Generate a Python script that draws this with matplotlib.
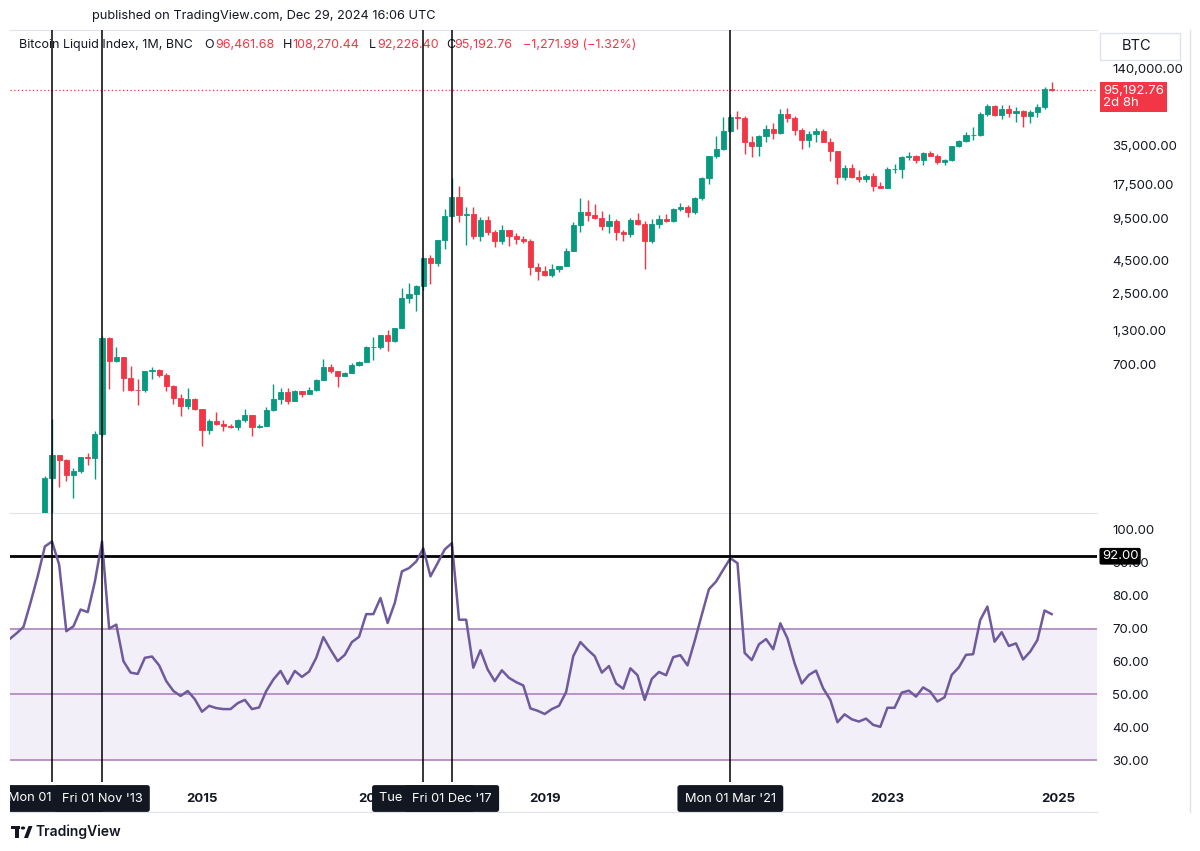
# Bitcoin Liquid Index, monthly candles + RSI, TradingView style

import numpy as np
import pandas as pd
import matplotlib
matplotlib.use('Agg')
import matplotlib.pyplot as plt
import matplotlib.ticker as ticker
from matplotlib.lines import Line2D
from matplotlib.patches import Rectangle, Circle, Polygon

plt.rcParams['font.family'] = ['Inter', 'DejaVu Sans']

#------------------------ DATA --------------------------#
months = pd.date_range('2012-10-01', '2024-12-01', freq='MS')

opens = [12.4, 11.2, 12.6,
         13.5, 20.4, 33.4, 93, 139, 129, 97.5, 106, 135, 133, 203, 1129,
         754, 805, 550, 450, 448, 625, 640, 585, 480, 385, 338, 380,
         318, 218, 255, 245, 236, 230, 263, 284, 230, 236, 312, 378,
         430, 368, 437, 416, 448, 531, 673, 624, 573, 608, 700, 742,
         964, 970, 1190, 1080, 1350, 2300, 2480, 2875, 4700, 4340, 6450, 10000,
         13880, 10220, 10320, 6925, 9240, 7490, 6390, 7730, 7030, 6630, 6370, 4040,
         3740, 3460, 3850, 4100, 5320, 8560, 10800, 10100, 9600, 8300, 9150, 7550,
         7190, 9350, 8600, 6410, 8620, 9450, 9140, 11350, 11650, 10780, 13800, 19700,
         28950, 33100, 45200, 58800, 57700, 37300, 35050, 41500, 47100, 43800, 61300, 57000,
         46200, 38500, 43200, 45500, 37700, 31800, 19900, 23300, 20000, 19400, 20500, 17160,
         16550, 23100, 23150, 28480, 29250, 27200, 30480, 29230, 25940, 26970, 34660, 37720,
         42280, 42580, 61200, 71300, 60700, 67500, 62700, 64600, 59000, 63300, 70200, 96461.68]
highs = [12.9, 12.6, 13.8,
         20.4, 33.5, 96, 266, 140, 130, 110, 136, 144, 213, 1163, 1150,
         960, 810, 690, 545, 630, 670, 655, 600, 490, 415, 460, 390,
         320, 265, 300, 260, 245, 268, 318, 285, 245, 330, 500, 465,
         460, 445, 439, 470, 548, 780, 705, 625, 615, 720, 755, 980,
         1150, 1200, 1295, 1350, 2760, 2999, 2930, 4750, 4980, 6470, 11400, 19700,
         17170, 11780, 11680, 9760, 9990, 7760, 8500, 7760, 7400, 7000, 6580, 4280,
         4100, 4200, 4120, 5600, 9000, 13800, 13200, 12300, 10900, 10370, 9530, 7740,
         9580, 10500, 9180, 9460, 10070, 10380, 11430, 12470, 12080, 14100, 19900, 29300,
         41950, 58350, 61790, 64900, 59500, 41300, 42400, 50500, 52900, 67000, 69000, 59100,
         47990, 45800, 48200, 47400, 40000, 31900, 24600, 25200, 22700, 21000, 21400, 18400,
         23900, 25200, 29200, 31000, 29800, 31400, 31800, 30200, 27500, 35000, 38400, 44700,
         48970, 64000, 73800, 72800, 71950, 71990, 70000, 65600, 66500, 73600, 99600, 108270.44]
lows = [9.9, 10.0, 12.3,
        13.2, 19.1, 33, 50, 79, 88, 65.5, 101, 118, 91, 197, 455,
        740, 440, 440, 340, 430, 540, 565, 440, 350, 280, 320, 310,
        165, 205, 240, 215, 225, 220, 252, 198, 225, 235, 305, 350,
        350, 365, 395, 413, 438, 530, 600, 470, 570, 600, 690, 740,
        760, 935, 890, 1060, 1345, 2100, 1830, 2670, 2970, 4100, 5500, 9900,
        9000, 5920, 6600, 6430, 7060, 5750, 6070, 5880, 6100, 6130, 3470, 3170,
        3400, 3380, 3670, 4080, 5320, 7500, 9100, 9400, 7750, 7300, 6520, 6430,
        6860, 8450, 3850, 6150, 8120, 8910, 8970, 10980, 9880, 10370, 13200, 17600,
        28130, 32300, 45000, 47000, 30000, 28800, 29300, 37400, 39600, 43300, 53300, 42000,
        32900, 34300, 37200, 37600, 26700, 17600, 18800, 19600, 18200, 18200, 15600, 16300,
        16500, 21400, 19600, 26950, 25800, 24800, 28900, 25400, 24900, 26600, 34100, 37600,
        38500, 41900, 59300, 59200, 56500, 58400, 53500, 49100, 52600, 58900, 66900, 92226.40]
closes = [11.2, 12.6, 13.5,
          20.4, 33.4, 93, 139, 129, 97.5, 106, 135, 133, 203, 1129, 754,
          805, 550, 450, 448, 625, 640, 585, 480, 385, 338, 380, 318,
          218, 255, 245, 236, 230, 263, 284, 230, 236, 312, 378, 430,
          368, 437, 416, 448, 531, 673, 624, 573, 608, 700, 742, 964,
          970, 1190, 1080, 1350, 2300, 2480, 2875, 4700, 4340, 6450, 10000, 13880,
          10220, 10320, 6925, 9240, 7490, 6390, 7730, 7030, 6630, 6370, 4040, 3740,
          3460, 3850, 4100, 5320, 8560, 10800, 10100, 9600, 8300, 9150, 7550, 7190,
          9350, 8600, 6410, 8620, 9450, 9140, 11350, 11650, 10780, 13800, 19700, 28950,
          33100, 45200, 58800, 57700, 37300, 35050, 41500, 47100, 43800, 61300, 57000, 46200,
          38500, 43200, 45500, 37700, 31800, 19900, 23300, 20000, 19400, 20500, 17160, 16550,
          23100, 23150, 28480, 29250, 27200, 30480, 29230, 25940, 26970, 34660, 37720, 42280,
          42580, 61200, 71300, 60700, 67500, 62700, 64600, 59000, 63300, 70200, 96460, 95192.76]

rsi = [66.7, 68.5, 70.5,
       78, 86, 95, 96.5, 89.4, 69.2, 70.7, 75.8, 75, 84.3, 96.5, 70,
       71.2, 60.1, 56.6, 56.2, 61.1, 61.5, 58.8, 54, 51, 49.5, 51, 48.5,
       44.7, 46.5, 45.8, 45.5, 45.5, 47.3, 48.3, 45.5, 46, 51, 54.5, 57.1,
       53.2, 57.1, 55.3, 56.9, 61.1, 67.4, 63.6, 60.1, 62, 65.9, 67.5, 74.4,
       74.4, 79.3, 71.7, 77.8, 87.4, 88.4, 90.4, 94.4, 85.9, 89.9, 94.1, 96,
       72.7, 72.7, 58.1, 63.4, 57.6, 54, 57.3, 55, 53.7, 52.7, 45.7, 45,
       44, 45.5, 46.5, 50.7, 61.6, 65.9, 63.6, 61.6, 56.6, 58.6, 53.3, 51.7,
       57.9, 55.8, 48.3, 54.7, 56.8, 55.8, 61.3, 61.9, 58.8, 66.2, 74.2, 82,
       84.3, 87.9, 91.4, 89.9, 62.6, 60.4, 65.2, 66.8, 63.7, 71.6, 67, 59.4,
       53.3, 55.9, 57.2, 51.8, 48.3, 41.5, 43.9, 42.4, 41.7, 42.6, 40.7, 40.1,
       45.9, 45.9, 50.5, 51.1, 49.3, 52.1, 50.8, 47.8, 49.1, 55.9, 58.2, 62,
       62.2, 72.6, 76.7, 66, 68.9, 64.7, 65.5, 60.6, 63, 66.5, 75.5, 74.4]

price_ticks = [700, 1300, 2500, 4500, 9500, 17500, 35000, 140000]
rsi_ticks = [30, 40, 50, 60, 70, 80, 90, 100]
rsi_bands = [30, 50, 70]
rsi_level = 92
last_price = 95192.76
year_labels = [2015, 2017, 2019, 2023, 2025]
marked_dates = ['2013-04-01', '2013-11-01', '2017-08-01', '2017-12-01', '2021-03-01']
marked_labels = ["Mon 01 Apr '13", "Fri 01 Nov '13", "Tue 01 Aug '17", "Fri 01 Dec '17", "Mon 01 Mar '21"]
#------------------------ DATA --------------------------#

GREEN = '#089981'
RED = '#F23645'
TEXT = '#131722'
GRID = '#e0e3eb'

W, H = 1200, 851
def fx(px):
    return px / W
def fy(py):
    return 1 - py / H

fig = plt.figure(figsize=(12, 8.51), dpi=100)
fig.patch.set_facecolor('white')

left, right = 10, 1097
ax_p = fig.add_axes([fx(left), fy(513), fx(right) - fx(left), fy(30) - fy(513)])
ax_r = fig.add_axes([fx(left), fy(782), fx(right) - fx(left), fy(513) - fy(782)])
ax_d = fig.add_axes([fx(left), fy(812), fx(right) - fx(left), fy(782) - fy(812)])

x = np.arange(len(months))
o = np.array(opens); h = np.array(highs); l = np.array(lows); c = np.array(closes)
colors = np.where(c >= o, GREEN, RED)
xlim = (0.112, 152.35)

# Candles
ax_p.vlines(x, l, h, colors=colors, lw=1, zorder=2)
ax_p.bar(x, np.abs(c - o), bottom=np.minimum(o, c), width=0.72, color=colors,
         edgecolor=colors, linewidth=0.6, zorder=3)
ax_p.set_yscale('log')
ax_p.set_ylim(49.7, 275900)
ax_p.set_xlim(*xlim)
ax_p.axhline(last_price, color=RED, ls=(0, (1, 2)), lw=0.9, zorder=1)

ax_p.yaxis.tick_right()
ax_p.yaxis.set_major_locator(ticker.FixedLocator(price_ticks))
ax_p.yaxis.set_major_formatter(ticker.FuncFormatter(lambda v, p: '{:,.2f}'.format(v)))
ax_p.yaxis.set_minor_locator(ticker.NullLocator())
ax_p.tick_params(axis='y', length=0, pad=11, labelsize=9.5, labelcolor=TEXT)
ax_p.set_xticks([])

ax_p.annotate('95,192.76\n2d 8h', xy=(1, last_price), xycoords=ax_p.get_yaxis_transform(),
              xytext=(4.5, -5.5), textcoords='offset points', ha='left', va='center',
              fontsize=9.5, color='white', linespacing=1.05, annotation_clip=False,
              bbox=dict(boxstyle='square,pad=0.22', fc=RED, ec='none'), zorder=6)

# RSI pane
ax_r.axhspan(rsi_bands[0], rsi_bands[-1], color='#7E57C2', alpha=0.09, lw=0, zorder=0)
for b in rsi_bands:
    ax_r.axhline(b, color='#b48cc3', lw=1.3, zorder=1)
ax_r.axhline(rsi_level, color='black', lw=2, zorder=2)
ax_r.plot(x, rsi, color='#6e5a9c', lw=1.8, zorder=3)
ax_r.set_ylim(23.31, 105.17)
ax_r.set_xlim(*xlim)
ax_r.yaxis.tick_right()
ax_r.set_yticks(rsi_ticks)
ax_r.yaxis.set_major_formatter(ticker.FuncFormatter(lambda v, p: '{:.2f}'.format(v)))
ax_r.tick_params(axis='y', length=0, pad=11, labelsize=9.5, labelcolor=TEXT)
ax_r.set_xticks([])
ax_r.annotate('92.00', xy=(1, rsi_level), xycoords=ax_r.get_yaxis_transform(),
              xytext=(3.5, 0), textcoords='offset points', ha='left', va='center',
              fontsize=9.5, color='white', annotation_clip=False,
              bbox=dict(boxstyle='round,pad=0.18,rounding_size=0.15', fc='black', ec='none'), zorder=6)

# Vertical markers
for d in marked_dates:
    xi = months.get_loc(pd.Timestamp(d))
    ax_p.axvline(xi, color='black', lw=1.1, zorder=5)
    ax_r.axvline(xi, color='black', lw=1.1, zorder=5)

# Date strip
ax_d.set_xlim(*xlim)
ax_d.set_ylim(0, 1)
ax_d.set_xticks([]); ax_d.set_yticks([])
for yr in year_labels:
    ax_d.text((yr - 2012) * 12 - 9, 0.43, str(yr), ha='center', va='center', fontsize=9.5,
              fontweight='bold', color=TEXT, clip_on=True, zorder=2)
for d, lab in zip(marked_dates, marked_labels):
    xi = months.get_loc(pd.Timestamp(d))
    ax_d.text(xi, 0.45, lab, ha='center', va='center', fontsize=9.2, color='white', clip_on=True,
              bbox=dict(boxstyle='round,pad=0.58,rounding_size=0.2', fc=TEXT, ec='none'), zorder=5)

for ax in [ax_p, ax_r, ax_d]:
    for s in ['left', 'right', 'top']:
        ax.spines[s].set_visible(False)
    ax.spines['bottom'].set_color(GRID)
    ax.set_facecolor('none')
ax_p.spines['top'].set_visible(True)
ax_p.spines['top'].set_color(GRID)
ax_r.spines['bottom'].set_visible(False)

# Header and legend
fig.text(fx(92), fy(16), 'published on TradingView.com, Dec 29, 2024 16:06 UTC',
         fontsize=9.2, color=TEXT, va='center')
legend = [('Bitcoin Liquid Index, 1M, BNC', 19, TEXT), ('O', 204, TEXT), ('96,461.68', 215, RED),
          ('H', 283, TEXT), ('108,270.44', 292, RED), ('L', 369, TEXT), ('92,226.40', 377, RED),
          ('C', 446, TEXT), ('95,192.76', 454, RED), ('\u22121,271.99 (\u22121.32%)', 523, RED)]
for s, px, col in legend:
    ax_p.text(fx(px), fy(45), s, transform=fig.transFigure, fontsize=9, color=col,
              va='center', zorder=1)

# BTC box, right border
fig.add_artist(Rectangle((fx(1100), fy(60)), fx(80), 27 / H, transform=fig.transFigure,
                         fc='white', ec=GRID, lw=1, zorder=5))
fig.text(fx(1122), fy(46), 'BTC', fontsize=10.5, color=TEXT, va='center', zorder=6)
fig.add_artist(Line2D([fx(1190), fx(1190)], [fy(30), fy(812)], color=GRID, lw=1))

# TradingView logo
fig.add_artist(Rectangle((fx(11), fy(829)), fx(9), 3 / H, transform=fig.transFigure, fc=TEXT, ec='none'))
fig.add_artist(Rectangle((fx(15), fy(838)), fx(4), 10 / H, transform=fig.transFigure, fc=TEXT, ec='none'))
fig.add_artist(Circle((fx(23), fy(828)), 2.2 / W, transform=fig.transFigure, fc=TEXT, ec='none'))
fig.add_artist(Polygon([(fx(24), fy(838)), (fx(28.5), fy(826)), (fx(32.5), fy(826)), (fx(28), fy(838))],
                       closed=True, transform=fig.transFigure, fc=TEXT, ec='none'))
fig.text(fx(36), fy(832), 'TradingView', fontsize=10, fontweight='semibold', color=TEXT, va='center')

plt.savefig('out.png', dpi=100, facecolor='white')
